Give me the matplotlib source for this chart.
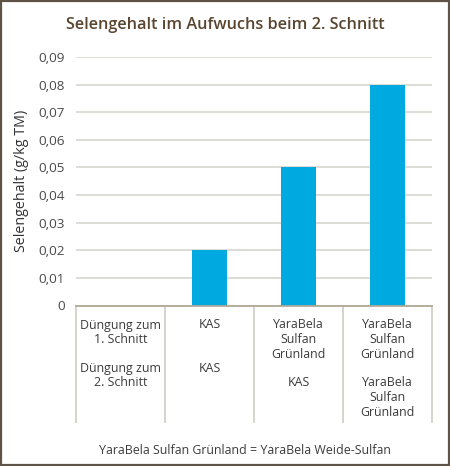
import numpy as np
import matplotlib.pyplot as plt
import matplotlib.transforms as mtransforms
from matplotlib.patches import Rectangle

plt.rcParams['font.family'] = ['Open Sans', 'DejaVu Sans']

# data
categories = ['Düngung', 'KAS', 'YaraBela Sulfan Grünland', 'YaraBela Sulfan Grünland 2']
values = [0, 0.02, 0.05, 0.08]
yticks = [0, 0.01, 0.02, 0.03, 0.04, 0.05, 0.06, 0.07, 0.08, 0.09]
ytick_labels = ['0', '0,01', '0,02', '0,03', '0,04', '0,05', '0,06', '0,07', '0,08', '0,09']
# table under the chart: lines of row 1 and row 2 for each column
row1 = [['Düngung zum', '1. Schnitt'], ['KAS'], ['YaraBela', 'Sulfan', 'Grünland'], ['YaraBela', 'Sulfan', 'Grünland']]
row2 = [['Düngung zum', '2. Schnitt'], ['KAS'], ['KAS'], ['YaraBela', 'Sulfan', 'Grünland']]
footer = 'YaraBela Sulfan Grünland = YaraBela Weide-Sulfan'
title = 'Selengehalt im Aufwuchs beim 2. Schnitt'
ylabel = 'Selengehalt (g/kg TM)'

W, H = 450, 466
fig = plt.figure(figsize=(W / 100, H / 100), dpi=100)
fig.patch.set_facecolor('white')

ax = fig.add_axes([76 / W, 1 - 305.5 / H, 356 / W, 248.5 / H])
x = np.arange(len(categories))
ax.bar(x, values, width=0.4, color='#00a9e0', zorder=3)

ax.set_xlim(-0.5, len(categories) - 0.5)
ax.set_ylim(0, 0.09)
ax.set_yticks(yticks)
ax.set_yticklabels(ytick_labels, fontsize=9.7, color='#4a4a4a')
ax.tick_params(axis='y', length=0, pad=8)
ax.set_xticks([])
ax.grid(axis='y', color='#d8d5cf', linewidth=1.2, zorder=0)
for s in ['top', 'right', 'left']:
    ax.spines[s].set_visible(False)
ax.spines['bottom'].set_color('#b3a898')
ax.spines['bottom'].set_linewidth(1.3)
ax.spines['bottom'].set_zorder(4)

fig.text(22 / W, 1 - 181 / H, ylabel, rotation=90, ha='center', va='center',
         fontsize=10.3, color='#333333')

fig.text(0.5, 1 - 25 / H, title, ha='center', va='center', fontsize=11.7,
         fontweight='semibold', color='#5a4530')

# table lines and text
trans = mtransforms.blended_transform_factory(ax.transData, fig.transFigure)
for b in np.arange(len(categories) + 1) - 0.5:
    ax.plot([b, b], [1 - 306 / H, 1 - 422 / H], transform=trans, color='#d3d0ca',
            linewidth=1.3, clip_on=False)

line_h = 14.5
for i in range(len(categories)):
    lines = row1[i] + [''] * (max(2, len(row1[i])) - len(row1[i])) + [''] + row2[i]
    for k, t in enumerate(lines):
        if t:
            ax.text(i, 1 - (325 + k * line_h) / H, t, transform=trans, ha='center',
                    va='center', fontsize=8.9, color='#3c3c3c')

fig.text(245 / W, 1 - 451 / H, footer, ha='center', va='center', fontsize=8.9, color='#3c3c3c')

fig.patches.append(Rectangle((1 / W, 1 / H), (W - 2) / W, (H - 2) / H, transform=fig.transFigure,
                             fill=False, edgecolor='#5e5346', linewidth=1.6))

fig.savefig('out.png', dpi=100)
